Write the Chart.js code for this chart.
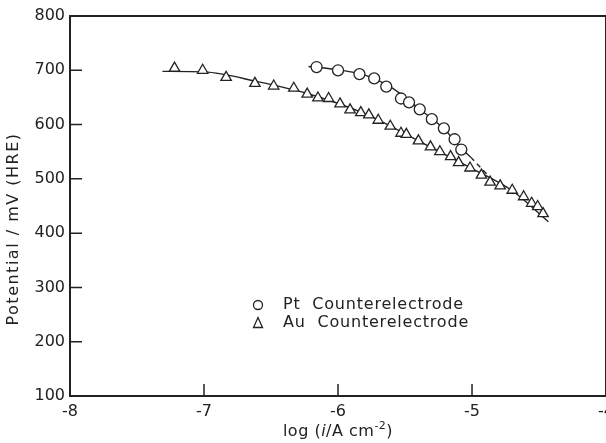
<!DOCTYPE html>
<html>
<head>
<meta charset="utf-8">
<script src="https://cdn.jsdelivr.net/npm/chart.js@4/dist/chart.umd.min.js"></script>
<style>
  html, body { margin: 0; padding: 0; background: #fff; overflow: hidden; }
  canvas { display: block; }
</style>
</head>
<body>
<canvas id="chartCanvas" width="620" height="443"></canvas>
<script>
// --- data ---
// Pt counterelectrode (circles)
const ptLogI = [-6.16, -6.0, -5.84, -5.73, -5.64, -5.53, -5.47, -5.39, -5.30, -5.21, -5.13, -5.08];
const ptMv   = [706, 700, 693, 685, 670, 648, 641, 628, 610, 593, 573, 554];

// Au counterelectrode (triangles)
const auLogI = [-7.22, -7.01, -6.835, -6.62, -6.48, -6.33, -6.23, -6.15, -6.07, -5.985, -5.91,
                -5.83, -5.77, -5.70, -5.61, -5.53, -5.49, -5.40, -5.31, -5.24, -5.16, -5.10,
                -5.015, -4.93, -4.865, -4.79, -4.70, -4.615, -4.555, -4.51, -4.47];
const auMv   = [704, 700, 687, 676, 671, 667, 656, 649, 648, 638, 627,
                622, 618, 608, 597, 584, 582, 570, 559, 550, 541, 530,
                520, 507, 494, 487, 479, 467, 455, 449, 436];

// hand-drawn fit curves
const ptFitLogI = [-6.22, -6.0, -5.8, -5.6, -5.4, -5.2, -5.08, -5.01];
const ptFitMv   = [707, 701, 691, 668, 630, 590, 556, 540];
const ptDashLogI = [-5.01, -4.86];
const ptDashMv   = [540, 501];
const auFitLogI = [-7.31, -7.0, -6.6, -6.2, -5.8, -5.4, -5.0, -4.7, -4.43];
const auFitMv   = [698, 697, 679, 655, 620, 570, 519, 478, 421];

const xTicks = [-8, -7, -6, -5, -4];
const yTicks = [100, 200, 300, 400, 500, 600, 700, 800];

const ink = "#222";
const font = "'DejaVu Sans', sans-serif";

const pts = (xs, ys) => xs.map((x, i) => ({ x, y: ys[i] }));

// --- extra drawing: frame, inward ticks, titles, legend ---
const decor = {
  id: "decor",
  afterDraw(chart) {
    const { ctx, chartArea: a, scales: { x, y } } = chart;
    ctx.save();
    ctx.strokeStyle = ink;
    ctx.fillStyle = ink;

    // frame
    ctx.lineWidth = 2;
    ctx.strokeRect(a.left, a.top, a.right - a.left, a.bottom - a.top);

    // inward tick marks
    ctx.lineWidth = 1.5;
    ctx.beginPath();
    xTicks.slice(1, -1).forEach(v => {
      const px = x.getPixelForValue(v);
      ctx.moveTo(px, a.bottom);
      ctx.lineTo(px, a.bottom - 12);
    });
    yTicks.slice(1, -1).forEach(v => {
      const py = y.getPixelForValue(v);
      ctx.moveTo(a.left, py);
      ctx.lineTo(a.left + 12, py);
    });
    ctx.stroke();

    // y title
    ctx.font = "16px " + font;
    ctx.letterSpacing = "1.5px";
    ctx.textAlign = "center";
    ctx.textBaseline = "middle";
    ctx.save();
    ctx.translate(14, 229);
    ctx.rotate(-Math.PI / 2);
    ctx.fillText("Potential / mV (HRE)", 0, 0);
    ctx.restore();

    // x title: log (i/A cm-2)
    ctx.letterSpacing = "0.5px";
    ctx.textAlign = "left";
    const parts = [
      { t: "log (", f: "16px " + font, dy: 0 },
      { t: "i", f: "italic 16px " + font, dy: 0 },
      { t: "/A cm", f: "16px " + font, dy: 0 },
      { t: "-2", f: "11px " + font, dy: -6 },
      { t: ")", f: "16px " + font, dy: 0 }
    ];
    let w = 0;
    parts.forEach(p => { ctx.font = p.f; p.w = ctx.measureText(p.t).width; w += p.w; });
    let cx = (a.left + a.right) / 2 - w / 2;
    parts.forEach(p => {
      ctx.font = p.f;
      ctx.fillText(p.t, cx, 432 + p.dy);
      cx += p.w;
    });

    // legend
    ctx.lineWidth = 1.3;
    ctx.beginPath();
    ctx.arc(258, 305, 4.5, 0, Math.PI * 2);
    ctx.stroke();
    ctx.beginPath();
    ctx.moveTo(258, 317.5);
    ctx.lineTo(262.5, 327.5);
    ctx.lineTo(253.5, 327.5);
    ctx.closePath();
    ctx.stroke();
    ctx.font = "16px " + font;
    ctx.letterSpacing = "0.8px";
    ctx.fillText("Pt  Counterelectrode", 283, 305);
    ctx.fillText("Au  Counterelectrode", 283, 323);
    ctx.restore();
  }
};

const markerStyle = {
  showLine: false,
  backgroundColor: "#fff",
  borderColor: ink,
  pointBackgroundColor: "#fff",
  pointBorderColor: ink,
  pointBorderWidth: 1.3,
  pointHoverRadius: 0
};
const fitStyle = {
  showLine: true,
  borderColor: ink,
  borderWidth: 1.4,
  pointRadius: 0,
  cubicInterpolationMode: "monotone",
  fill: false
};

new Chart(document.getElementById("chartCanvas"), {
  type: "scatter",
  data: {
    datasets: [
      { label: "Pt Counterelectrode", data: pts(ptLogI, ptMv), pointStyle: "circle", pointRadius: 5.5, ...markerStyle },
      { label: "Au Counterelectrode", data: pts(auLogI, auMv), pointStyle: "triangle", pointRadius: 6, ...markerStyle },
      { label: "Pt fit", data: pts(ptFitLogI, ptFitMv), ...fitStyle },
      { label: "Pt extrapolation", data: pts(ptDashLogI, ptDashMv), ...fitStyle, borderDash: [5, 4] },
      { label: "Au fit", data: pts(auFitLogI, auFitMv), ...fitStyle }
    ]
  },
  options: {
    responsive: false,
    animation: false,
    devicePixelRatio: 1,
    layout: { padding: { top: 16, right: 12, left: 0, bottom: 0 } },
    plugins: { legend: { display: false }, tooltip: { enabled: false } },
    scales: {
      x: {
        type: "linear",
        min: -8, max: -4,
        afterFit(scale) { scale.height = 47; },
        afterBuildTicks(scale) { scale.ticks = xTicks.map(v => ({ value: v })); },
        grid: { display: false, drawTicks: false },
        border: { display: false },
        ticks: { color: ink, padding: 6, font: { family: font, size: 16 }, callback: v => String(v) }
      },
      y: {
        type: "linear",
        min: 100, max: 800,
        afterFit(scale) { scale.width = 70; },
        afterBuildTicks(scale) { scale.ticks = yTicks.map(v => ({ value: v })); },
        grid: { display: false, drawTicks: false },
        border: { display: false },
        ticks: { color: ink, padding: 5, font: { family: font, size: 16 }, callback: v => String(v) }
      }
    }
  },
  plugins: [decor]
});
</script>
</body>
</html>
